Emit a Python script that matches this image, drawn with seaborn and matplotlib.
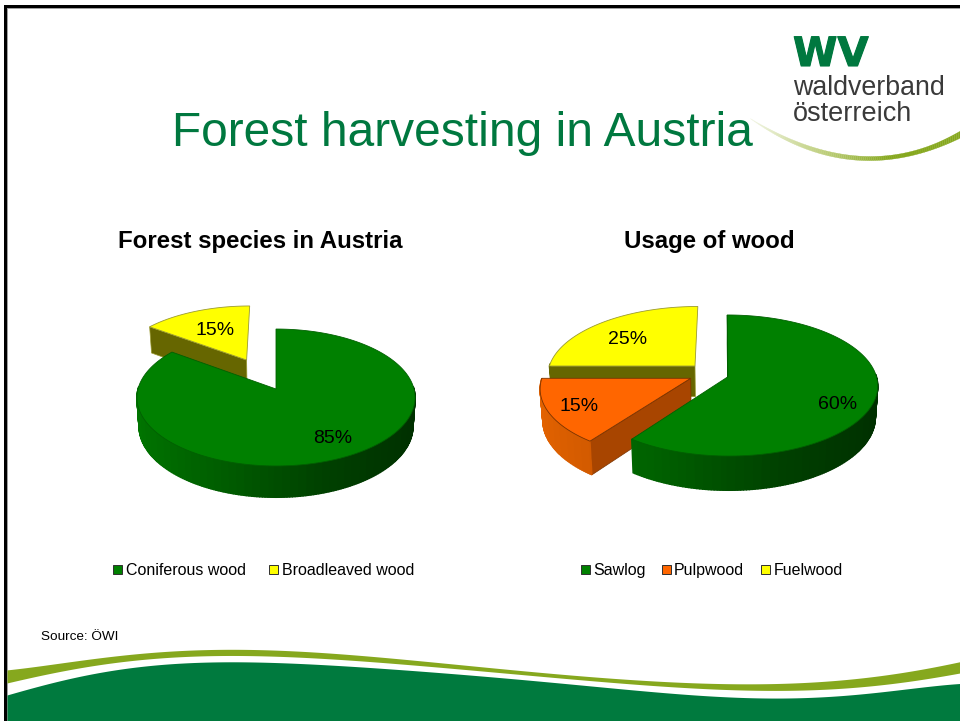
import numpy as np
import matplotlib
matplotlib.use("Agg")
import matplotlib.pyplot as plt
import matplotlib.patheffects as pe
from matplotlib.patches import Rectangle
import seaborn as sns

# ---------- data ----------
species_labels = ["Coniferous wood", "Broadleaved wood"]
species_values = [85, 15]
usage_labels = ["Sawlog", "Pulpwood", "Fuelwood"]
usage_values = [60, 15, 25]

main_title = "Forest harvesting in Austria"
left_title = "Forest species in Austria"
right_title = "Usage of wood"
source_text = "Source: ÖWI"

GREEN, YELLOW, ORANGE = "#008000", "#FFFF00", "#FF6600"
species_colors = [GREEN, YELLOW]
usage_colors = [GREEN, ORANGE, YELLOW]
BRAND = "#00783F"
OLIVE = "#86A81E"

sns.set_theme(style="white")
plt.rcParams["font.family"] = ["Liberation Sans", "DejaVu Sans"]

fig = plt.figure(figsize=(9.6, 7.21), dpi=100, facecolor="white")
ax = fig.add_axes([0, 0, 1, 1])
ax.set_xlim(0, 960)
ax.set_ylim(721, 0)
ax.axis("off")

wall_ramps = {
    GREEN: sns.blend_palette(["#007400", "#005C00", "#004000", "#003000"], 40),
    ORANGE: sns.blend_palette(["#E26200", "#C85500", "#B04A00", "#A04000"], 40),
    YELLOW: sns.blend_palette(["#666600", "#666600"], 40),
}
cut_colors = {GREEN: "#003000", ORANGE: "#A84500", YELLOW: "#666600"}
edge_colors = {GREEN: "#006000", ORANGE: "#7A3300", YELLOW: "#9A9A30"}


class Pie3D:
    def __init__(self, cx, cy, a, b, k, depth, shrink=0.985):
        self.cx, self.cy, self.a, self.b, self.k = cx, cy, a, b, k
        self.depth, self.shrink = depth, shrink

    def project(self, x, y, lower=False):
        den = 1 + self.k * y
        s = self.shrink if lower else 1.0
        sx = self.cx + s * self.b * x / den
        sy = self.cy - s * self.a * y / den
        if lower:
            sy = sy + self.depth / den
        return sx, sy

    def wedge(self, t0, t1, off, color):
        t = np.radians(np.linspace(t0, t1, max(int(t1 - t0), 2) + 1))
        ox, oy = off
        x, y = ox + np.sin(t), oy + np.cos(t)
        # radial cut walls
        for end, sign in ((0, -1), (-1, 1)):
            q = np.array([self.project(ox, oy), self.project(x[end], y[end]),
                          self.project(x[end], y[end], True), self.project(ox, oy, True)])
            area = 0.5 * np.sum(q[:, 0] * np.roll(q[:, 1], -1) - np.roll(q[:, 0], -1) * q[:, 1])
            if sign * area > 0.01 and (abs(np.sin(t[end])) > 0.1 or ox > 0):
                ax.fill(q[:, 0], q[:, 1], color=cut_colors[color], ec=edge_colors[color], lw=0.5, zorder=2)
        # outer wall, shaded from left to right
        ramp = wall_ramps[color]
        for i in range(len(t) - 1):
            if np.cos(t[i]) < 0.03 or np.cos(t[i + 1]) < 0.03:
                p = np.array([self.project(x[i], y[i]), self.project(x[i + 1], y[i + 1]),
                              self.project(x[i + 1], y[i + 1], True), self.project(x[i], y[i], True)])
                n = (np.sin(t[i]) + 1) / 2
                c = ramp[min(int(n * 40), 39)]
                ax.fill(p[:, 0], p[:, 1], color=c, ec=c, lw=1.0, zorder=2)
        # top face
        sx, sy = self.project(x, y)
        ax_, ay_ = self.project(ox, oy)
        ax.fill(np.r_[ax_, sx], np.r_[ay_, sy], fc=color, ec=edge_colors[color], lw=0.6, zorder=2)


def draw_pie(pie, values, colors, offsets, order):
    edges = np.r_[0, np.cumsum(values)] / np.sum(values) * 360
    for i in order:
        pie.wedge(edges[i], edges[i + 1], offsets[i], colors[i])


left_pie = Pie3D(276, 389, 67.4, 138, 0.124, 28.5)
draw_pie(left_pie, species_values, species_colors, [(0, 0), (-0.225, 0.454)], [1, 0])
right_pie = Pie3D(721, 375, 69, 148, 0.124, 31)
draw_pie(right_pie, usage_values, usage_colors,
         [(0.047, -0.025), (-0.2035, -0.0475), (-0.1786, 0.1325)], [2, 1, 0])

# value labels
for v, (px, py) in zip(species_values, [(332.5, 443), (215.5, 335)]):
    ax.text(px, py, f"{v}%", ha="center", va="baseline", fontsize=14, color="black", zorder=3)
for v, (px, py) in zip(usage_values, [(838, 409), (579, 411), (628, 344)]):
    ax.text(px, py, f"{v}%", ha="center", va="baseline", fontsize=14, color="black", zorder=3)

# titles
ax.text(462, 146, main_title, ha="center", va="baseline", fontsize=34.5, color=BRAND)
ax.text(260.5, 248, left_title, ha="center", va="baseline", fontsize=17.3, fontweight="bold", color="black")
ax.text(709, 248, right_title, ha="center", va="baseline", fontsize=17.3, fontweight="bold", color="black")
ax.text(41, 640, source_text, ha="left", va="baseline", fontsize=9.7, color="black")


# legends
def add_legend(labels, colors, box_x, text_x):
    for lab, col, bx, tx in zip(labels, colors, box_x, text_x):
        ax.add_patch(Rectangle((bx, 565.2), 9, 9, fc=col, ec="#303030", lw=0.7, zorder=3))
        ax.text(tx, 575, lab, ha="left", va="baseline", fontsize=11.5, color="black", zorder=3)


add_legend(species_labels, species_colors, [113.3, 269.2], [125.5, 281.5])
add_legend(usage_labels, usage_colors, [581, 661.5, 761], [593.5, 674, 773.5])

# logo
ax.text(793, 66, "WV", ha="left", va="baseline", fontsize=29, fontweight="bold",
        family="DejaVu Sans", color=BRAND,
        path_effects=[pe.withStroke(linewidth=0.8, foreground=BRAND)])
ax.text(793, 95, "waldverband", ha="left", va="baseline", fontsize=19.3, color="#3A3A3A")
ax.text(793, 121, "österreich", ha="left", va="baseline", fontsize=19.5, color="#3A3A3A")

# decorative swooshes
xs = np.linspace(7, 960, 400)
kx = np.array([7, 67, 130, 230, 330, 480, 600, 760, 860, 960])
g_top = np.array([695, 679, 668, 661.7, 665, 676, 686.7, 698, 694, 683.5])
o_top = np.array([670, 661.7, 655, 649, 653, 667, 677, 684, 678, 661.7])
o_bot = np.array([683, 670, 660.7, 656, 658, 671.7, 680.7, 690.7, 686.7, 673])
smooth = lambda ky: np.polyval(np.polyfit((kx - 480) / 480, ky, 7), (xs - 480) / 480)
ax.fill_between(xs, smooth(g_top), 721, color="#007A3E", lw=0, zorder=1)
ax.fill_between(xs, smooth(o_top), smooth(o_bot), color=OLIVE, lw=0, zorder=1)

sx = np.array([750, 800, 873, 930, 960])
s_up = np.array([118, 143, 155, 146, 130])
s_lo = np.array([118, 147, 159, 151, 137])
xx = np.linspace(750, 960, 105)
up = np.polyval(np.polyfit(sx, s_up, 3), xx)
lo = np.polyval(np.polyfit(sx, s_lo, 3), xx)
lo = np.maximum(lo, up)
ramp = sns.blend_palette(["#F0F4E0", "#C0D080", OLIVE, OLIVE], len(xx) - 1)
for i in range(len(xx) - 1):
    ax.fill_between(xx[i:i + 2], up[i:i + 2], lo[i:i + 2], color=ramp[i], lw=0.2, zorder=1)

# slide frame
ax.add_patch(Rectangle((7, 8), 953, 1, fc="#A0A0A0", ec="none", zorder=4))
ax.add_patch(Rectangle((7, 8), 1, 713, fc="#A0A0A0", ec="none", zorder=0))
ax.add_patch(Rectangle((4, 5), 956, 3.3, fc="black", ec="none", zorder=5))
ax.add_patch(Rectangle((4, 5), 3.2, 716, fc="black", ec="none", zorder=5))

fig.savefig("out.png", dpi=100, facecolor="white")
